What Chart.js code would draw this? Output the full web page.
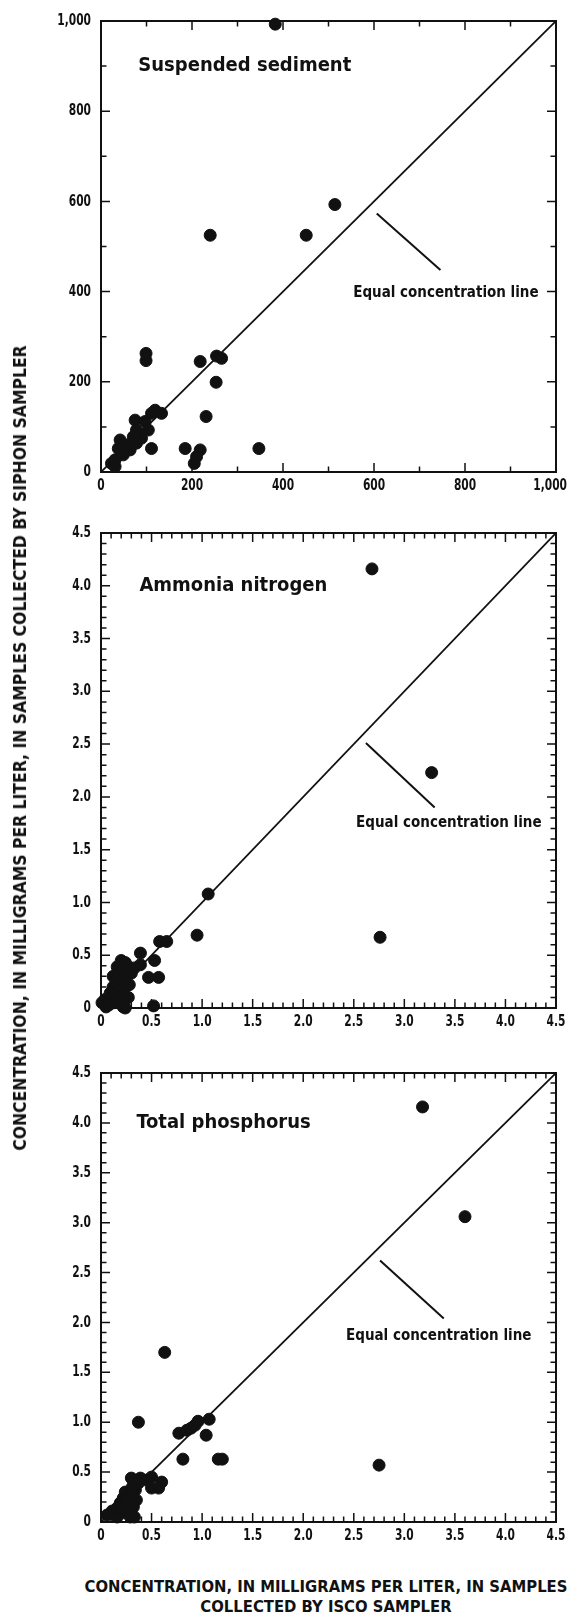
<!DOCTYPE html>
<html lang="en">
<head>
<meta charset="UTF-8">
<title>Siphon vs ISCO sampler concentrations</title>
<script src="https://cdn.jsdelivr.net/npm/chart.js"></script>
<style>
  body { margin: 0; background: #fff; width: 569px; height: 1612px; position: relative; overflow: hidden; }
  canvas { position: absolute; left: 0; }
  .axis-title {
    position: absolute; white-space: nowrap; color: #111; font-weight: bold;
    font-family: "DejaVu Sans Condensed", "DejaVu Sans", sans-serif; font-stretch: condensed; font-size: 16.5px;
    text-align: center; line-height: 20px;
  }
</style>
</head>
<body>
<canvas id="sed" width="569" height="502" style="top:0px"></canvas>
<canvas id="nh3" width="569" height="535" style="top:503px"></canvas>
<canvas id="tp" width="569" height="512" style="top:1040px"></canvas>

<div class="axis-title" style="left:20px; top:748px; font-size:17.4px; transform: translate(-50%, -50%) rotate(-90deg);">CONCENTRATION, IN MILLIGRAMS PER LITER, IN SAMPLES COLLECTED BY SIPHON SAMPLER</div>
<div class="axis-title" style="left:326px; top:1577px; transform: translateX(-50%);">CONCENTRATION, IN MILLIGRAMS PER LITER, IN SAMPLES<br>COLLECTED BY ISCO SAMPLER</div>

<script>
// suspended sediment, mg/L
const sedIsco   = [383, 514, 451, 240, 99, 99, 218, 254, 265, 253, 231, 347, 185, 218, 210, 205, 111, 119, 133, 111, 75, 97, 78, 104, 89, 42, 56, 38, 64, 49, 31, 23, 31, 78, 71];
const sedSiphon = [993, 593, 525, 525, 263, 247, 245, 257, 252, 199, 123, 52, 52, 49, 34, 19, 52, 137, 130, 130, 115, 112, 93, 93, 75, 71, 60, 52, 49, 38, 27, 19, 12, 64, 78];

// ammonia nitrogen, mg/L
const nh3Isco   = [2.68, 3.27, 2.76, 0.95, 1.06, 0.58, 0.65, 0.39, 0.53, 0.47, 0.57, 0.39, 0.29, 0.20, 0.16, 0.24, 0.12, 0.19, 0.24, 0.12, 0.09, 0.20, 0.04, 0.16, 0.01, 0.22, 0.22, 0.05, 0.52, 0.24,
                   0.15, 0.18, 0.22, 0.25, 0.28, 0.27, 0.13, 0.08, 0.30, 0.26, 0.33];
const nh3Siphon = [4.16, 2.23, 0.67, 0.69, 1.08, 0.63, 0.63, 0.52, 0.45, 0.29, 0.29, 0.41, 0.36, 0.45, 0.39, 0.43, 0.30, 0.27, 0.20, 0.20, 0.14, 0.12, 0.08, 0.08, 0.05, 0.05, 0.01, 0.01, 0.02, 0.00,
                   0.25, 0.33, 0.36, 0.30, 0.22, 0.10, 0.05, 0.03, 0.33, 0.40, 0.38];

// total phosphorus, mg/L
const tpIsco   = [3.18, 3.60, 2.75, 0.63, 0.37, 1.07, 1.04, 0.81, 1.16, 1.20, 0.77, 0.85, 0.89, 0.93, 0.96, 0.50, 0.45, 0.30, 0.39, 0.60, 0.50, 0.57, 0.37, 0.34, 0.27, 0.22, 0.29, 0.19, 0.35, 0.16, 0.25, 0.29, 0.11, 0.06, 0.20, 0.29, 0.16,
                  0.24, 0.30, 0.32, 0.26, 0.31, 0.21, 0.33];
const tpSiphon = [4.16, 3.06, 0.57, 1.70, 1.00, 1.03, 0.87, 0.63, 0.63, 0.63, 0.89, 0.92, 0.94, 0.97, 1.01, 0.45, 0.42, 0.44, 0.44, 0.40, 0.34, 0.34, 0.39, 0.32, 0.29, 0.24, 0.20, 0.19, 0.22, 0.14, 0.14, 0.09, 0.11, 0.07, 0.09, 0.05, 0.05,
                  0.30, 0.27, 0.15, 0.22, 0.35, 0.12, 0.05];

// tick labels
const sedTickLabels = ['0', '200', '400', '600', '800', '1,000'];
const nutTickLabels = ['0', '0.5', '1.0', '1.5', '2.0', '2.5', '3.0', '3.5', '4.0', '4.5'];

// leader line for the "Equal concentration line" note (isco, siphon)
const sedLeaderX = [606, 746], sedLeaderY = [573, 448];
const nh3LeaderX = [2.62, 3.30], nh3LeaderY = [2.51, 1.90];
const tpLeaderX  = [2.76, 3.39], tpLeaderY  = [2.62, 2.04];

const FONT = '"DejaVu Sans Condensed", "DejaVu Sans", sans-serif';
const SQUEEZE = 0.74;

function pts(xs, ys) {
    return xs.map((x, i) => ({ x: x, y: ys[i] }));
}

// squeezed bold text, close to the heavy condensed face of the original
function squeezed(ctx, text, x, y, align, sx) {
    ctx.save();
    ctx.translate(x, y);
    ctx.scale(sx, 1);
    ctx.textAlign = align;
    ctx.fillText(text, 0, 0);
    ctx.restore();
}

// frame, inward ticks on all four sides, tick labels, panel title and note
const framePlugin = {
    id: 'frame',
    beforeDatasetsDraw(chart, args, o) {
        const ctx = chart.ctx, a = chart.chartArea;
        const xs = chart.scales.x, ys = chart.scales.y;
        ctx.save();
        ctx.strokeStyle = '#111';
        ctx.lineWidth = 2;
        ctx.strokeRect(a.left, a.top, a.right - a.left, a.bottom - a.top);
        ctx.lineWidth = 1.5;
        const n = Math.round(o.max / o.minor);
        for (let i = 1; i < n; i++) {
            const v = i * o.minor;
            const len = (Math.abs(v / o.major - Math.round(v / o.major)) < 1e-6) ? 9 : 5.5;
            const px = xs.getPixelForValue(v), py = ys.getPixelForValue(v);
            ctx.beginPath();
            ctx.moveTo(px, a.bottom); ctx.lineTo(px, a.bottom - len);
            ctx.moveTo(px, a.top); ctx.lineTo(px, a.top + len);
            ctx.moveTo(a.left, py); ctx.lineTo(a.left + len, py);
            ctx.moveTo(a.right, py); ctx.lineTo(a.right - len, py);
            ctx.stroke();
        }
        // tick labels
        ctx.fillStyle = '#111';
        ctx.font = 'bold 16px ' + FONT;
        ctx.textBaseline = 'middle';
        o.labels.forEach((lab, i) => {
            const v = i * o.major;
            squeezed(ctx, lab, a.left - 10, ys.getPixelForValue(v), 'right', SQUEEZE);
            // keep the last label inside the page, as in the original
            const half = ctx.measureText(lab).width * SQUEEZE / 2;
            const cx = Math.min(xs.getPixelForValue(v), chart.width - 2 - half);
            squeezed(ctx, lab, cx, a.bottom + 14, 'center', SQUEEZE);
        });
        ctx.restore();
    },
    afterDatasetsDraw(chart, args, o) {
        const ctx = chart.ctx;
        const xs = chart.scales.x, ys = chart.scales.y;
        ctx.save();
        ctx.fillStyle = '#111';
        ctx.textBaseline = 'middle';
        ctx.font = 'bold 20px ' + FONT;
        ctx.textAlign = 'left';
        ctx.fillText(o.title, xs.getPixelForValue(o.titleAt[0]), ys.getPixelForValue(o.titleAt[1]));
        ctx.font = 'bold 15px ' + FONT;
        ctx.textAlign = 'center';
        ctx.fillText('Equal concentration line', xs.getPixelForValue(o.noteAt[0]), ys.getPixelForValue(o.noteAt[1]));
        ctx.restore();
    }
};

function makeChart(id, cfg) {
    new Chart(document.getElementById(id), {
        type: 'scatter',
        data: {
            datasets: [
                {
                    data: pts(cfg.isco, cfg.siphon),
                    backgroundColor: '#111',
                    borderColor: '#111',
                    pointRadius: 6,
                    pointHoverRadius: 6,
                    clip: false
                },
                {
                    type: 'line',
                    data: [{ x: 0, y: 0 }, { x: cfg.max, y: cfg.max }],
                    borderColor: '#111',
                    borderWidth: 1.8,
                    pointRadius: 0
                },
                {
                    type: 'line',
                    data: pts(cfg.leaderX, cfg.leaderY),
                    borderColor: '#111',
                    borderWidth: 2,
                    pointRadius: 0
                }
            ]
        },
        options: {
            responsive: false,
            animation: false,
            events: [],
            layout: { autoPadding: false, padding: { top: cfg.padTop, right: 13, left: 0, bottom: 0 } },
            plugins: {
                legend: { display: false },
                tooltip: { enabled: false },
                frame: {
                    max: cfg.max, major: cfg.major, minor: cfg.minor, labels: cfg.labels,
                    title: cfg.title, titleAt: cfg.titleAt, noteAt: cfg.noteAt
                }
            },
            scales: {
                x: {
                    type: 'linear', min: 0, max: cfg.max,
                    grid: { display: false },
                    border: { display: false },
                    ticks: { display: false, stepSize: cfg.major },
                    afterFit: s => { s.height = 30; }
                },
                y: {
                    type: 'linear', min: 0, max: cfg.max,
                    grid: { display: false },
                    border: { display: false },
                    ticks: { display: false, stepSize: cfg.major },
                    afterFit: s => { s.width = 101; }
                }
            }
        },
        plugins: [framePlugin]
    });
}

makeChart('sed', {
    isco: sedIsco, siphon: sedSiphon, labels: sedTickLabels,
    max: 1000, major: 200, minor: 100, padTop: 21,
    leaderX: sedLeaderX, leaderY: sedLeaderY,
    title: 'Suspended sediment', titleAt: [82, 900], noteAt: [758, 396]
});
makeChart('nh3', {
    isco: nh3Isco, siphon: nh3Siphon, labels: nutTickLabels,
    max: 4.5, major: 0.5, minor: 0.1, padTop: 30,
    leaderX: nh3LeaderX, leaderY: nh3LeaderY,
    title: 'Ammonia nitrogen', titleAt: [0.38, 4.0], noteAt: [3.44, 1.75]
});
makeChart('tp', {
    isco: tpIsco, siphon: tpSiphon, labels: nutTickLabels,
    max: 4.5, major: 0.5, minor: 0.1, padTop: 33,
    leaderX: tpLeaderX, leaderY: tpLeaderY,
    title: 'Total phosphorus', titleAt: [0.35, 4.0], noteAt: [3.34, 1.86]
});
</script>
</body>
</html>
